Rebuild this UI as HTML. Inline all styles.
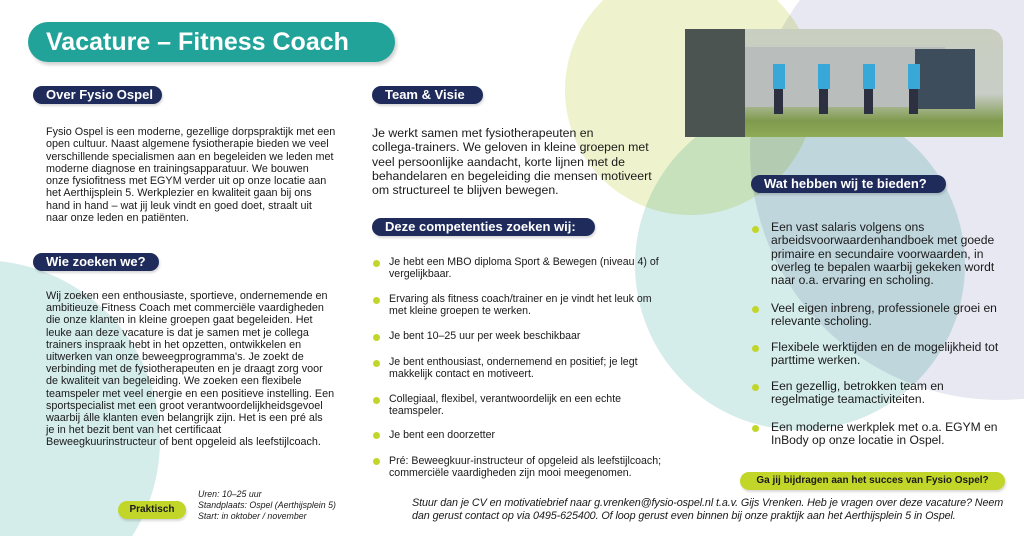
<!DOCTYPE html>
<html><head><meta charset="utf-8"><style>
*{margin:0;padding:0;box-sizing:border-box}
html,body{width:1024px;height:536px;overflow:hidden}
body{background:#fff;font-family:"Liberation Sans","DejaVu Sans",sans-serif;color:#1a1a1a}
#w{position:relative;width:1024px;height:536px;overflow:hidden}
.a{position:absolute}
.hd{position:absolute;background:#1f2b5b;color:#fff;font-weight:bold;font-size:13px;height:18px;line-height:18px;border-radius:9px;padding-left:13px;box-shadow:1px 2px 2px rgba(0,0,0,.15);white-space:nowrap}
.t{position:absolute;font-size:10.8px;line-height:12.3px;white-space:nowrap}
.dot{position:absolute;width:7px;height:7px;border-radius:50%;background:#c2d62a}
.li{position:absolute;font-size:10.6px;line-height:12.2px;white-space:nowrap}
.ri{position:absolute;font-size:12.1px;line-height:13.3px;white-space:nowrap}
</style></head><body><div id="w">
<svg class="a" style="left:0;top:0" width="1024" height="536" viewBox="0 0 1024 536">
<g style="mix-blend-mode:multiply">
<circle cx="690" cy="90" r="125" fill="#eef3cd" style="mix-blend-mode:multiply"/>
<circle cx="1000" cy="150" r="250" fill="#e7e8f1" style="mix-blend-mode:multiply"/>
<circle cx="800" cy="265" r="165" fill="#d4ecea" style="mix-blend-mode:multiply"/>
<circle cx="-20" cy="440" r="180" fill="#d4ecea"/>
</g>
</svg>

<div class="a" style="left:28px;top:22px;width:367px;height:40px;background:#22a39a;border-radius:20px;box-shadow:2px 3px 3px rgba(0,0,0,.18);color:#fff;font-weight:bold;font-size:25px;line-height:40px;padding-left:18px">Vacature – Fitness Coach</div>

<div class="a" style="left:685px;top:29px;width:318px;height:108px;border-top-right-radius:14px;overflow:hidden;background:linear-gradient(180deg,#c9cfc0 0%,#c8cdc6 60%,#7f9a4e 85%,#8eab55 100%)">
<div class="a" style="left:0;top:0;width:60px;height:108px;background:#4c5452"></div>
<div class="a" style="left:60px;top:18px;width:200px;height:60px;background:#b9bdbc"></div>
<div class="a" style="left:230px;top:20px;width:60px;height:60px;background:#3d4d5c"></div>
<div class="a" style="left:60px;top:35px;width:200px;height:25px;background:repeating-linear-gradient(90deg,transparent 0 28px,#37a8d8 28px 40px,transparent 40px 45px)"></div>
<div class="a" style="left:60px;top:60px;width:200px;height:25px;background:repeating-linear-gradient(90deg,transparent 0 29px,#2c3040 29px 38px,transparent 38px 45px)"></div>
</div>

<div class="hd" style="left:33px;top:86px;width:129px">Over Fysio Ospel</div>
<div class="hd" style="left:33px;top:253px;width:126px">Wie zoeken we?</div>
<div class="hd" style="left:372px;top:86px;width:111px">Team &amp; Visie</div>
<div class="hd" style="left:372px;top:218px;width:223px">Deze competenties zoeken wij:</div>
<div class="hd" style="left:751px;top:175px;width:195px">Wat hebben wij te bieden?</div>

<div class="t" style="left:46px;top:126px">Fysio Ospel is een moderne, gezellige dorpspraktijk met een<br>open cultuur. Naast algemene fysiotherapie bieden we veel<br>verschillende specialismen aan en begeleiden we leden met<br>moderne diagnose en trainingsapparatuur. We bouwen<br>onze fysiofitness met EGYM verder uit op onze locatie aan<br>het Aerthijsplein 5. Werkplezier en kwaliteit gaan bij ons<br>hand in hand – wat jij leuk vindt en goed doet, straalt uit<br>naar onze leden en patiënten.</div>

<div class="t" style="left:46px;top:290px;line-height:12.2px">Wij zoeken een enthousiaste, sportieve, ondernemende en<br>ambitieuze Fitness Coach met commerciële vaardigheden<br>die onze klanten in kleine groepen gaat begeleiden. Het<br>leuke aan deze vacature is dat je samen met je collega<br>trainers inspraak hebt in het opzetten, ontwikkelen en<br>uitwerken van onze beweegprogramma's. Je zoekt de<br>verbinding met de fysiotherapeuten en je draagt zorg voor<br>de kwaliteit van begeleiding. We zoeken een flexibele<br>teamspeler met veel energie en een positieve instelling. Een<br>sportspecialist met een groot verantwoordelijkheidsgevoel<br>waarbij álle klanten even belangrijk zijn. Het is een pré als<br>je in het bezit bent van het certificaat<br>Beweegkuurinstructeur of bent opgeleid als leefstijlcoach.</div>

<div class="t" style="left:372px;top:126px;font-size:12.3px;line-height:14.3px">Je werkt samen met fysiotherapeuten en<br>collega-trainers. We geloven in kleine groepen met<br>veel persoonlijke aandacht, korte lijnen met de<br>behandelaren en begeleiding die mensen motiveert<br>om structureel te blijven bewegen.</div>

<div class="dot" style="left:373px;top:260px"></div><div class="li" style="left:389px;top:256px">Je hebt een MBO diploma Sport &amp; Bewegen (niveau 4) of<br>vergelijkbaar.</div>
<div class="dot" style="left:373px;top:297px"></div><div class="li" style="left:389px;top:293px">Ervaring als fitness coach/trainer en je vindt het leuk om<br>met kleine groepen te werken.</div>
<div class="dot" style="left:373px;top:334px"></div><div class="li" style="left:389px;top:330px">Je bent 10–25 uur per week beschikbaar</div>
<div class="dot" style="left:373px;top:360px"></div><div class="li" style="left:389px;top:356px">Je bent enthousiast, ondernemend en positief; je legt<br>makkelijk contact en motiveert.</div>
<div class="dot" style="left:373px;top:397px"></div><div class="li" style="left:389px;top:393px">Collegiaal, flexibel, verantwoordelijk en een echte<br>teamspeler.</div>
<div class="dot" style="left:373px;top:432px"></div><div class="li" style="left:389px;top:429px">Je bent een doorzetter</div>
<div class="dot" style="left:373px;top:458px"></div><div class="li" style="left:389px;top:455px">Pré: Beweegkuur-instructeur of opgeleid als leefstijlcoach;<br>commerciële vaardigheden zijn mooi meegenomen.</div>

<div class="dot" style="left:752px;top:226px"></div><div class="ri" style="left:771px;top:221px">Een vast salaris volgens ons<br>arbeidsvoorwaardenhandboek met goede<br>primaire en secundaire voorwaarden, in<br>overleg te bepalen waarbij gekeken wordt<br>naar o.a. ervaring en scholing.</div>
<div class="dot" style="left:752px;top:306px"></div><div class="ri" style="left:771px;top:302px">Veel eigen inbreng, professionele groei en<br>relevante scholing.</div>
<div class="dot" style="left:752px;top:345px"></div><div class="ri" style="left:771px;top:341px">Flexibele werktijden en de mogelijkheid tot<br>parttime werken.</div>
<div class="dot" style="left:752px;top:384px"></div><div class="ri" style="left:771px;top:380px">Een gezellig, betrokken team en<br>regelmatige teamactiviteiten.</div>
<div class="dot" style="left:752px;top:425px"></div><div class="ri" style="left:771px;top:421px">Een moderne werkplek met o.a. EGYM en<br>InBody op onze locatie in Ospel.</div>

<div class="a" style="left:740px;top:472px;width:265px;height:18px;background:#c2d62a;border-radius:9px;font-size:10px;font-weight:bold;line-height:18px;text-align:center;color:#1a1a1a;box-shadow:1px 2px 2px rgba(0,0,0,.15)">Ga jij bijdragen aan het succes van Fysio Ospel?</div>
<div class="a" style="left:118px;top:501px;width:68px;height:18px;background:#c2d62a;border-radius:9px;font-size:10px;font-weight:bold;line-height:18px;text-align:center;box-shadow:1px 2px 2px rgba(0,0,0,.15)">Praktisch</div>
<div class="a" style="left:198px;top:489px;font-size:8.8px;line-height:11px;font-style:italic;white-space:nowrap">Uren: 10–25 uur<br>Standplaats: Ospel (Aerthijsplein 5)<br>Start: in oktober / november</div>
<div class="a" style="left:412px;top:497px;font-size:10.8px;line-height:13px;font-style:italic;letter-spacing:-0.1px;white-space:nowrap">Stuur dan je CV en motivatiebrief naar g.vrenken@fysio-ospel.nl t.a.v. Gijs Vrenken. Heb je vragen over deze vacature? Neem<br>dan gerust contact op via 0495-625400. Of loop gerust even binnen bij onze praktijk aan het Aerthijsplein 5 in Ospel.</div>
</div></body></html>
